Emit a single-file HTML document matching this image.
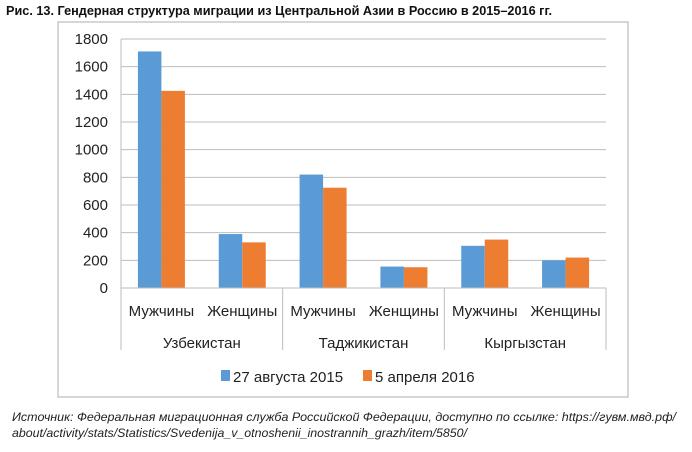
<!DOCTYPE html>
<html><head><meta charset="utf-8"><style>
body{margin:0;background:#fff;width:692px;height:447px;overflow:hidden;font-family:"Liberation Sans",sans-serif;}
</style></head><body>
<svg width="692" height="447" xmlns="http://www.w3.org/2000/svg">
<text x="6" y="15" font-size="13" font-weight="bold" font-family="Liberation Sans Narrow, Liberation Sans, sans-serif" textLength="546" lengthAdjust="spacingAndGlyphs" fill="#111">Рис. 13. Гендерная структура миграции из Центральной Азии в Россию в 2015–2016 гг.</text>
<rect x="58" y="22" width="570" height="375" fill="#fff" stroke="#c8c8c8" stroke-width="1.5"/>
<g id="grid"></g>
<g id="bars"></g>
<g id="axis"></g>
<g font-size="15" fill="#222">
<rect x="221" y="370" width="9" height="11" fill="#5b9bd5"/>
<text x="233" y="382">27 августа 2015</text>
<rect x="363" y="370" width="9" height="11" fill="#ed7d31"/>
<text x="375" y="382">5 апреля 2016</text>
</g>
<g font-size="12" font-style="italic" fill="#222">
<text x="12" y="421" textLength="664" lengthAdjust="spacingAndGlyphs">Источник: Федеральная миграционная служба Российской Федерации, доступно по ссылке: https://гувм.мвд.рф/</text>
<text x="12" y="437" textLength="455" lengthAdjust="spacingAndGlyphs">about/activity/stats/Statistics/Svedenija_v_otnoshenii_inostrannih_grazh/item/5850/</text>
</g>
</svg>
<script>
const groups=["Узбекистан","Таджикистан","Кыргызстан"];
const categories=["Мужчины","Женщины","Мужчины","Женщины","Мужчины","Женщины"];
const series2015=[1710,390,820,155,305,200];
const series2016=[1425,330,725,150,350,220];
const yTicks=[0,200,400,600,800,1000,1200,1400,1600,1800];
const NS="http://www.w3.org/2000/svg";
const X0=121,X1=606,Y0=288,Y1=39,YMAX=1800;
const y=v=>Y0-(v/YMAX)*(Y0-Y1);
const cw=(X1-X0)/categories.length;
const xc=i=>X0+cw*(i+0.5);
function mk(t,a,parent,txt){const e=document.createElementNS(NS,t);for(const k in a)e.setAttribute(k,a[k]);if(txt!==undefined)e.textContent=txt;parent.appendChild(e);return e;}
const G=document.getElementById('grid'),B=document.getElementById('bars'),A=document.getElementById('axis');
yTicks.forEach(t=>{
 if(t>0){const l=mk('line',{x1:X0,x2:X1,y1:y(t),y2:y(t),stroke:'#bdbdbd','stroke-width':1},G);
 
 }
 const tx=mk('text',{x:108,y:y(t)+5,'text-anchor':'end','font-size':15,fill:'#222'},A,String(t));
 
 
});
const bw=23.5;
categories.forEach((c,i)=>{
 const r1=mk('rect',{x:xc(i)-bw,y:y(series2015[i]),width:bw,height:Y0-y(series2015[i]),fill:'#5b9bd5'},B);
 
 
 const r2=mk('rect',{x:xc(i),y:y(series2016[i]),width:bw,height:Y0-y(series2016[i]),fill:'#ed7d31'},B);
 
 
 const t=mk('text',{x:xc(i),y:316,'text-anchor':'middle','font-size':15,fill:'#222'},A,c);
 
 
});
const base=mk('line',{x1:X0,x2:X1,y1:Y0,y2:Y0,stroke:'#bdbdbd','stroke-width':1},A);


const gw=(X1-X0)/groups.length;
for(let g=0;g<=groups.length;g++){
 const l=mk('line',{x1:X0+gw*g,x2:X0+gw*g,y1:Y0,y2:350,stroke:'#bdbdbd','stroke-width':1},A);
 
 
}
const vl=mk('line',{x1:X0,x2:X0,y1:Y1,y2:Y0,stroke:'#bdbdbd','stroke-width':1},A);


groups.forEach((g,i)=>{
 const t=mk('text',{x:X0+gw*(i+0.5),y:348,'text-anchor':'middle','font-size':15,fill:'#222'},A,g);
 
 
});
</script>
</body></html>
